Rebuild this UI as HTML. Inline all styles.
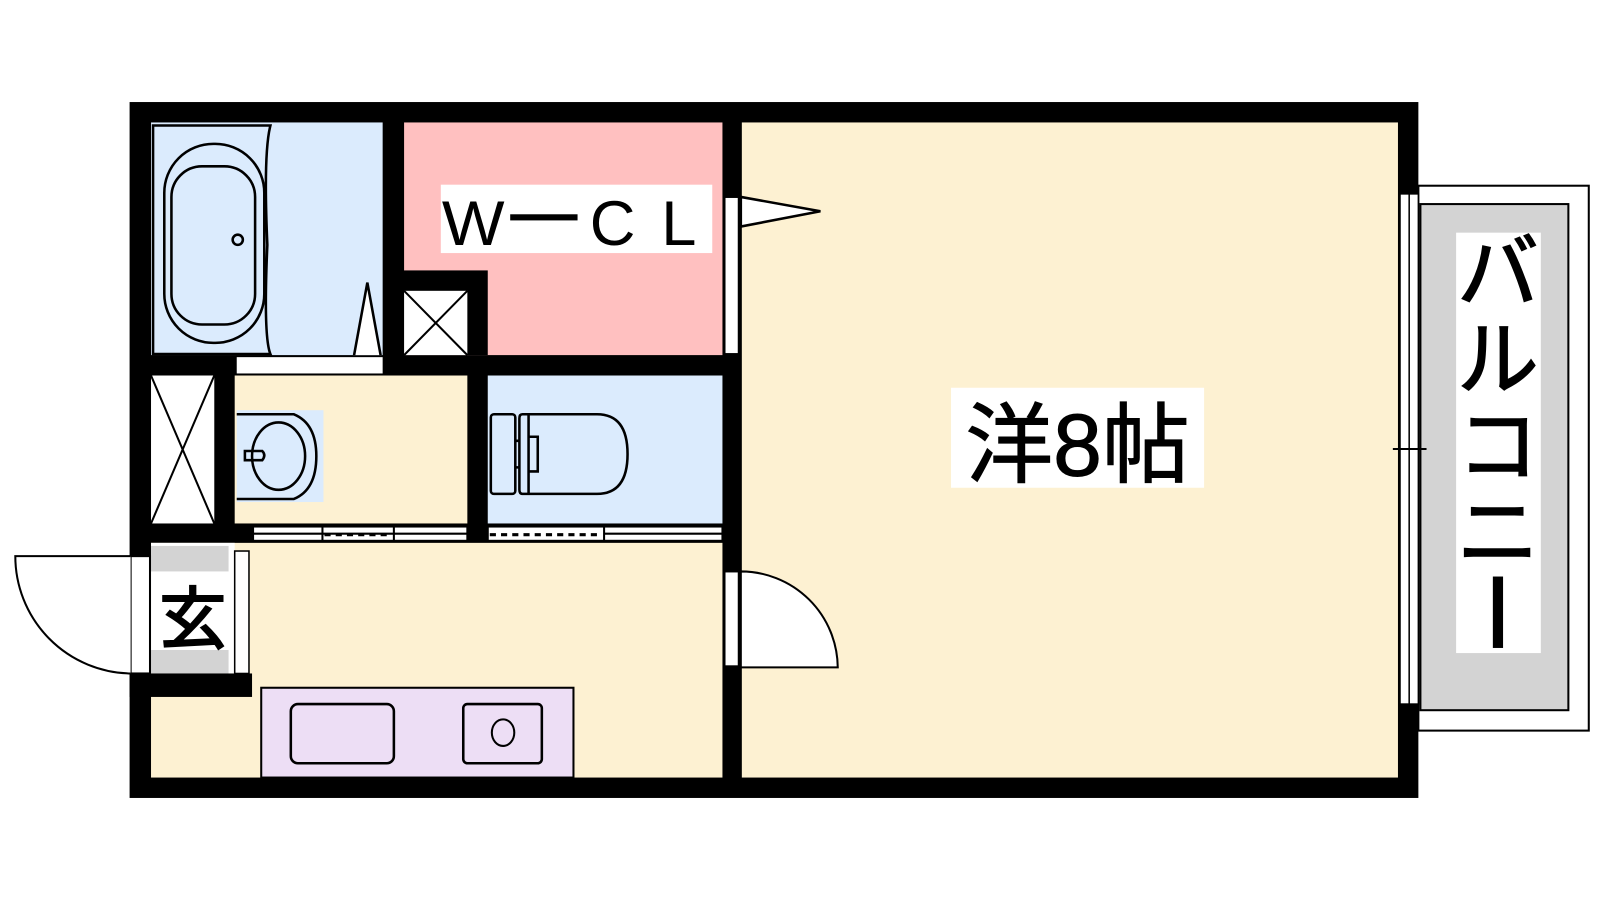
<!DOCTYPE html>
<html><head><meta charset="utf-8"><style>
html,body{margin:0;padding:0;background:#fff;width:1600px;height:900px;overflow:hidden}
svg{display:block}
text{font-family:"Liberation Sans","Noto Sans CJK JP",sans-serif}
</style></head><body>
<svg width="1600" height="900" viewBox="0 0 1568 882" preserveAspectRatio="none" xmlns="http://www.w3.org/2000/svg">
<rect x="1390" y="182" width="167" height="534" fill="#fff" stroke="#000" stroke-width="2"/>
<rect x="1392" y="200" width="145" height="496" fill="#d3d3d3" stroke="#000" stroke-width="2"/>
<rect x="1427" y="228" width="83" height="412" fill="#fff"/>
<text x="1468" y="295" font-size="80" text-anchor="middle" stroke="#000" stroke-width="1.5">バ</text>
<text x="1468" y="380" font-size="80" text-anchor="middle" stroke="#000" stroke-width="1.5">ル</text>
<text x="1468" y="465" font-size="80" text-anchor="middle" stroke="#000" stroke-width="1.5">コ</text>
<text x="1468" y="550" font-size="80" text-anchor="middle" stroke="#000" stroke-width="1.5">ニ</text>
<rect x="1463" y="565" width="10" height="70" fill="#000"/>

<rect x="127" y="100" width="1263" height="682" fill="#000"/>
<rect x="727" y="120" width="643" height="642" fill="#fdf1d2"/>
<rect x="148" y="532" width="560" height="230" fill="#fdf1d2"/>
<rect x="148" y="120" width="227" height="228" fill="#dbebfd"/>
<rect x="396" y="120" width="312" height="228" fill="#ffc0c0"/>
<rect x="388" y="265" width="90" height="83" fill="#000"/>
<rect x="396" y="285" width="62" height="63" fill="#fff"/>
<path d="M396 285 L458 348 M458 285 L396 348" stroke="#000" stroke-width="2"/>
<rect x="432" y="181" width="266" height="67" fill="#fff"/>
<g font-size="62">
<text x="0" y="240" transform="translate(433 0) scale(1.05 1)">W</text>
<rect x="500" y="210" width="66" height="6" fill="#000"/>
<text x="578" y="240">C</text>
<text x="648" y="240">L</text>
</g>
<rect x="230" y="368" width="228" height="145" fill="#fdf1d2"/>
<rect x="148" y="368" width="62" height="145" fill="#fff"/>
<path d="M148 368 L210 513 M210 368 L148 513" stroke="#000" stroke-width="2"/>
<rect x="232" y="350" width="143" height="16" fill="#fff"/>
<rect x="478" y="368" width="230" height="145" fill="#dbebfd"/>
<g stroke="#000" stroke-width="2" fill="#fff">
<rect x="248" y="516" width="210" height="14"/>
<line x1="316" y1="516" x2="316" y2="530"/><line x1="386" y1="516" x2="386" y2="530"/>
<line x1="248" y1="523" x2="458" y2="523"/>
<rect x="478" y="516" width="230" height="14"/>
<line x1="592" y1="516" x2="592" y2="530"/>
<line x1="592" y1="523" x2="708" y2="523"/>
</g>
<line x1="318" y1="524" x2="384" y2="524" stroke="#000" stroke-width="3" stroke-dasharray="6,5"/>
<line x1="480" y1="524" x2="590" y2="524" stroke="#000" stroke-width="3" stroke-dasharray="6,5"/>
<g fill="none" stroke="#000" stroke-width="2.5">
<path d="M150 123 L265 123 Q258 150 262 240 Q258 330 265 347 L150 347 Z" fill="#dbebfd"/>
<rect x="161" y="141" width="98" height="195" rx="48"/>
<rect x="168" y="163" width="82" height="155" rx="30"/>
<circle cx="233" cy="235" r="5"/>
<path d="M347 348 L360 277 L373 348" fill="#fff"/>
</g>
<g fill="none" stroke="#000" stroke-width="2.5">
<rect x="232" y="402" width="85" height="90" fill="#dbebfd" stroke="none"/>
<path d="M232 406 L288 406 Q310 415 310 447 Q310 480 288 489 L232 489"/>
<ellipse cx="273" cy="447" rx="26" ry="33"/>
<path d="M240 442 L257 442 Q261 446 257 451 L240 451 Z"/>
</g>
<g fill="none" stroke="#000" stroke-width="2.5">
<rect x="481" y="406" width="24" height="78" rx="3"/>
<path d="M512 406 L585 406 Q615 406 615 445 Q615 484 585 484 L512 484 Q509 484 509 480 L509 410 Q509 406 512 406"/>
<path d="M518 406 L518 484"/>
<path d="M518 428 L527 428 L527 462 L518 462"/>
<path d="M505 432 L509 432 M505 458 L509 458"/>
</g>
<rect x="710" y="193" width="14" height="154" fill="#fff" stroke="#000" stroke-width="2"/>
<path d="M726 193 L804 207 L726 222 Z" fill="#fff" stroke="#000" stroke-width="2.5"/>
<rect x="710" y="560" width="14" height="93" fill="#fff" stroke="#000" stroke-width="2"/>
<path d="M726 560 A95 95 0 0 1 821 654 L726 654 Z" fill="#fff" stroke="#000" stroke-width="2"/>
<rect x="148" y="532" width="82" height="128" fill="#fff"/>
<rect x="230" y="540" width="14" height="120" fill="#fff" stroke="#000" stroke-width="1.5"/>
<rect x="148" y="535" width="76" height="25" fill="#d3d3d3"/>
<rect x="148" y="637" width="76" height="25" fill="#d3d3d3"/>
<rect x="127" y="660" width="120" height="23" fill="#000"/>
<text x="189" y="630" font-size="66" text-anchor="middle" stroke="#000" stroke-width="2">玄</text>
<rect x="128" y="545" width="19" height="115" fill="#fff" stroke="#000" stroke-width="2"/>
<path d="M128 545 L15 545 A115 115 0 0 0 128 660" fill="#fff" stroke="#000" stroke-width="2"/>
<rect x="256" y="674" width="306" height="88" fill="#eddef5" stroke="#000" stroke-width="2"/>
<rect x="285" y="690" width="101" height="58" rx="7" fill="none" stroke="#000" stroke-width="2.5"/>
<rect x="454" y="690" width="77" height="58" rx="4" fill="none" stroke="#000" stroke-width="2.5"/>
<ellipse cx="493" cy="718" rx="11" ry="13" fill="none" stroke="#000" stroke-width="2"/>
<rect x="1372" y="190" width="18" height="500" fill="#fff" stroke="#000" stroke-width="1.5"/>
<line x1="1381" y1="190" x2="1381" y2="690" stroke="#000" stroke-width="1.5"/>
<line x1="1365" y1="440" x2="1398" y2="440" stroke="#000" stroke-width="2"/>
<rect x="932" y="380" width="248" height="98" fill="#fff"/>
<text x="1056" y="466" font-size="86" text-anchor="middle" stroke="#000" stroke-width="1">洋8帖</text>
</svg>
</body></html>
